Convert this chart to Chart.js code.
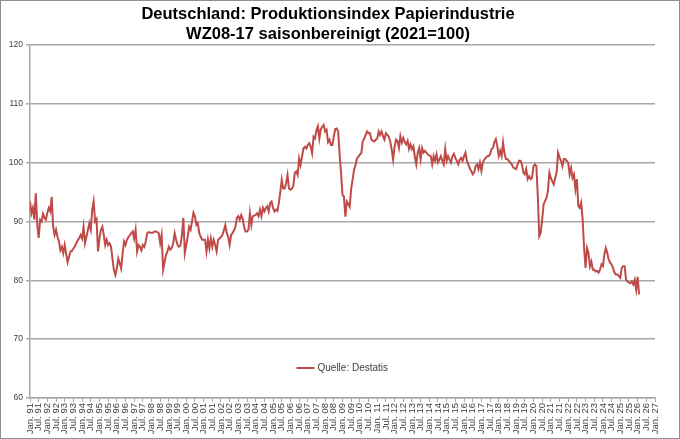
<!DOCTYPE html>
<html>
<head>
<meta charset="utf-8">
<title>Produktionsindex Papierindustrie</title>
<script src="https://cdn.jsdelivr.net/npm/chart.js@4.4.1/dist/chart.umd.min.js"></script>
<style>
  html, body { margin: 0; padding: 0; background: #fff; }
  #wrap { width: 680px; height: 439px; box-sizing: border-box; border: 1px solid #8f8f8f; }
</style>
</head>
<body>
<div id="wrap"><canvas id="chart"></canvas></div>
<script>
// Monatswerte ab Jan. 1991, saisonbereinigt (2021=100)
const indexValues = [
  93.4, 91.4, 92.3, 90.3, 94.8, 89.5, 87.2, 90.3, 90.0, 91.3, 90.6, 90.3,
  91.5, 92.3, 91.7, 94.2, 89.1, 87.7, 88.6, 87.4, 86.6, 85.1, 85.7, 84.6,
  86.0, 84.5, 83.1, 84.0, 84.9, 85.0, 85.4, 85.8, 86.3, 86.8, 87.2, 87.7,
  87.1, 89.1, 86.3, 87.4, 88.5, 89.7, 88.6, 92.0, 93.4, 90.0, 90.4, 84.9,
  87.1, 88.6, 89.1, 87.7, 86.0, 86.9, 86.0, 86.3, 85.7, 83.7, 81.7, 80.9,
  82.0, 83.7, 82.9, 82.0, 84.5, 86.6, 86.0, 86.9, 87.3, 87.7, 88.0, 88.3,
  87.1, 88.6, 84.9, 86.0, 85.7, 85.1, 86.0, 85.7, 86.6, 88.0, 88.2, 88.1,
  88.1, 88.1, 88.3, 88.3, 88.2, 88.0, 86.3, 87.7, 81.8, 83.1, 84.3, 84.9,
  85.7, 85.2, 85.5, 86.3, 88.0, 86.9, 86.0, 85.7, 85.9, 87.7, 90.6, 84.6,
  86.0, 87.4, 89.1, 88.6, 90.0, 91.5, 90.9, 89.4, 89.7, 88.0, 87.4, 86.9,
  86.9, 86.9, 84.9, 86.9, 85.4, 87.1, 85.7, 86.9, 86.0, 84.9, 86.9, 87.1,
  87.4, 87.7, 88.5, 89.4, 88.0, 87.4, 86.0, 87.7, 88.0, 88.5, 89.1, 90.6,
  90.9, 90.3, 91.1, 90.5, 89.0, 88.3, 88.3, 88.6, 91.4, 89.4, 90.9, 91.0,
  91.1, 91.4, 90.9, 92.0, 90.9, 92.3, 91.7, 92.3, 92.6, 91.7, 93.1, 93.4,
  92.3, 91.7, 92.0, 91.8, 93.1, 95.0, 97.1, 95.6, 95.6, 96.5, 97.9, 95.6,
  95.4, 95.6, 96.0, 98.2, 98.5, 97.9, 100.7, 99.6, 101.0, 102.4, 102.7, 102.4,
  103.0, 103.3, 102.7, 101.6, 104.4, 104.1, 105.5, 106.2, 104.1, 105.7, 106.1, 106.4,
  105.3, 105.6, 103.5, 103.9, 103.0, 103.0, 104.5, 105.7, 105.8, 105.3, 101.5, 98.2,
  94.5, 94.2, 90.8, 93.4, 93.0, 92.5, 95.6, 97.1, 98.8, 99.6, 100.7, 101.0,
  101.4, 101.6, 103.6, 104.1, 104.7, 105.3, 105.0, 105.0, 103.9, 103.7, 103.6, 103.9,
  104.1, 105.3, 104.7, 105.3, 104.5, 103.9, 105.0, 104.7, 104.4, 103.6, 102.2, 100.5,
  102.7, 103.9, 103.7, 102.5, 104.5, 103.4, 104.2, 103.5, 103.1, 103.7, 102.3, 103.1,
  102.3, 102.8, 101.0, 99.7, 101.7, 102.5, 100.6, 102.5, 101.7, 102.0, 101.7, 101.4,
  101.2, 101.1, 99.7, 101.1, 100.3, 101.4, 100.0, 100.5, 101.1, 100.3, 99.7, 102.3,
  100.3, 101.1, 100.5, 100.0, 101.1, 101.5, 100.8, 100.3, 99.7, 100.5, 100.8, 100.3,
  101.1, 101.7, 100.3, 99.7, 99.0, 98.6, 98.0, 98.3, 99.4, 99.7, 98.9, 100.0,
  98.6, 100.0, 100.5, 100.8, 101.1, 101.1, 101.4, 102.3, 102.5, 103.5, 104.0, 102.8,
  101.1, 102.0, 101.1, 103.4, 101.5, 100.6, 100.6, 100.3, 100.0, 99.7, 99.2, 99.0,
  98.9, 99.7, 100.3, 100.3, 99.7, 98.3, 98.0, 98.9, 97.2, 97.7, 97.2, 97.4,
  99.4, 99.7, 99.4, 94.3, 87.5, 88.1, 90.3, 92.9, 93.5, 94.0, 95.2, 98.3,
  97.4, 96.8, 96.3, 97.4, 98.3, 101.7, 100.9, 100.3, 99.4, 100.6, 100.6, 100.3,
  100.0, 98.0, 99.1, 97.4, 98.0, 95.5, 97.2, 92.6, 92.3, 93.2, 90.3, 85.5,
  82.1, 85.5, 84.7, 82.4, 83.2, 81.8, 81.8, 81.5, 81.6, 81.3, 81.8, 82.7,
  82.4, 84.4, 85.5, 84.7, 83.5, 83.0, 82.7, 82.1, 81.3, 81.0, 81.0, 80.7,
  80.4, 82.1, 82.4, 82.4, 80.1, 79.8, 79.6, 79.5, 79.8, 79.3, 80.1, 78.4,
  80.6, 77.6
];

// Beschriftung alle 6 Monate, Jan. 91 bis Jan. 27
const tickLabels = [
  'Jan. 91','Jul. 91','Jan. 92','Jul. 92','Jan. 93','Jul. 93','Jan. 94','Jul. 94',
  'Jan. 95','Jul. 95','Jan. 96','Jul. 96','Jan. 97','Jul. 97','Jan. 98','Jul. 98',
  'Jan. 99','Jul. 99','Jan. 00','Jul. 00','Jan. 01','Jul. 01','Jan. 02','Jul. 02',
  'Jan. 03','Jul. 03','Jan. 04','Jul. 04','Jan. 05','Jul. 05','Jan. 06','Jul. 06',
  'Jan. 07','Jul. 07','Jan. 08','Jul. 08','Jan. 09','Jul. 09','Jan. 10','Jul. 10',
  'Jan. 11','Jul. 11','Jan. 12','Jul. 12','Jan. 13','Jul. 13','Jan. 14','Jul. 14',
  'Jan. 15','Jul. 15','Jan. 16','Jul. 16','Jan. 17','Jul. 17','Jan. 18','Jul. 18',
  'Jan. 19','Jul. 19','Jan. 20','Jul. 20','Jan. 21','Jul. 21','Jan. 22','Jul. 22',
  'Jan. 23','Jul. 23','Jan. 24','Jul. 24','Jan. 25','Jul. 25','Jan. 26','Jul. 26',
  'Jan. 27'
];

const yMin = 60, yMax = 120, yStep = 10;
const monthsShown = 432;
const lineColor = '#BE4B48';
const gridColor = '#a8a8a8';

// Legende innerhalb der Zeichenfläche
const sourceLegend = {
  id: 'sourceLegend',
  afterDraw(chart) {
    const { ctx, chartArea } = chart;
    const cx = (chartArea.left + chartArea.right) / 2;
    const y = chartArea.bottom - 30;
    const x0 = cx - 46;
    ctx.save();
    ctx.strokeStyle = lineColor;
    ctx.lineWidth = 2;
    ctx.beginPath();
    ctx.moveTo(x0, y);
    ctx.lineTo(x0 + 18, y);
    ctx.stroke();
    ctx.fillStyle = '#404040';
    ctx.font = '10px "Liberation Sans", Arial, sans-serif';
    ctx.textBaseline = 'middle';
    ctx.fillText(chart.data.datasets[0].label, x0 + 21, y);
    ctx.restore();
  }
};

const ctx = document.getElementById('chart').getContext('2d');
const chart = new Chart(ctx, {
  type: 'line',
  data: {
    datasets: [{
      label: 'Quelle: Destatis',
      data: indexValues.map((v, i) => ({ x: i, y: v })),
      borderColor: lineColor,
      borderWidth: 2,
      pointRadius: 0,
      tension: 0,
      fill: false
    }]
  },
  options: {
    responsive: true,
    maintainAspectRatio: false,
    animation: false,
    layout: { padding: { left: 0, right: 24, top: 0, bottom: 0 } },
    plugins: {
      legend: { display: false },
      tooltip: { enabled: false },
      title: {
        display: true,
        text: ['Deutschland: Produktionsindex Papierindustrie', 'WZ08-17 saisonbereinigt (2021=100)'],
        color: '#000',
        font: { family: '"Liberation Sans", Arial, sans-serif', size: 16.5, weight: 'bold', lineHeight: 1.24 },
        padding: { top: 3, bottom: 0 }
      }
    },
    scales: {
      x: {
        type: 'linear',
        min: 0,
        max: monthsShown,
        afterFit(scale) { scale.height = 40; },
        grid: { drawOnChartArea: false, drawTicks: true, tickLength: 4, color: gridColor },
        border: { color: gridColor, width: 1.5 },
        ticks: {
          stepSize: 6,
          autoSkip: false,
          maxRotation: 90,
          minRotation: 90,
          padding: 1,
          color: '#404040',
          font: { family: '"Liberation Sans", Arial, sans-serif', size: 9.5 },
          callback: (value, index) => tickLabels[index]
        }
      },
      y: {
        min: yMin,
        max: yMax,
        afterFit(scale) { scale.width = 29; },
        grid: { color: gridColor, lineWidth: 1.5, tickLength: 4 },
        border: { color: gridColor, width: 1.5 },
        ticks: {
          stepSize: yStep,
          padding: 3,
          color: '#404040',
          font: { family: '"Liberation Sans", Arial, sans-serif', size: 8.5 }
        }
      }
    }
  },
  plugins: [sourceLegend]
});
</script>
</body>
</html>
